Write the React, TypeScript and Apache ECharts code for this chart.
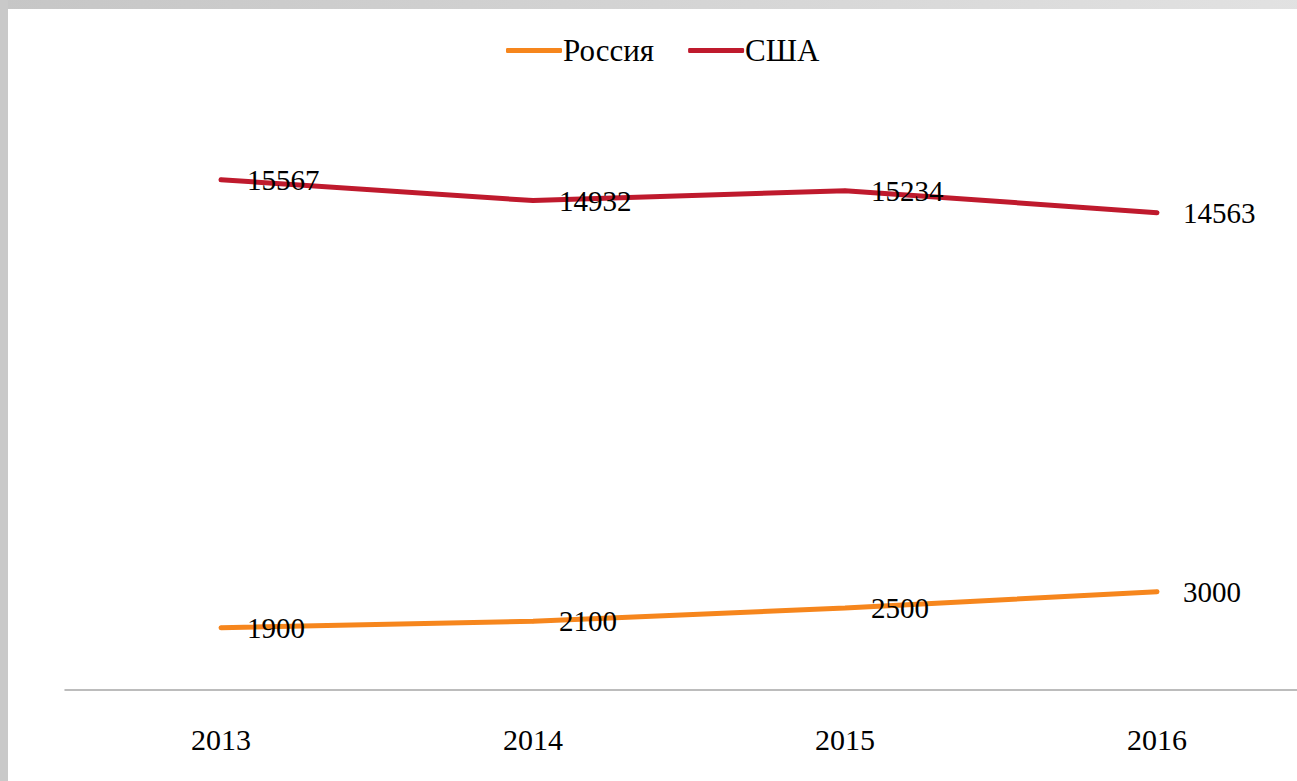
import React, { useEffect, useRef } from "react";
import * as echarts from "echarts";

const years = ["2013", "2014", "2015", "2016"];
const russia = [1900, 2100, 2500, 3000];
const usa = [15567, 14932, 15234, 14563];
const seriesNames = ["Россия", "США"];

const FONT = "'Liberation Serif', 'Times New Roman', serif";

export default function App() {
  const ref = useRef<HTMLDivElement>(null);
  useEffect(() => {
    if (!ref.current) return;
    const chart = echarts.init(ref.current, null, { renderer: "svg" });
    const labelCfg = {
      show: true,
      position: "right",
      distance: 24,
      color: "#000",
      fontFamily: FONT,
      fontSize: 29,
    };
    const mk = (name: string, data: number[], color: string) => ({
      name,
      type: "line",
      data,
      showSymbol: true,
      symbol: "circle",
      symbolSize: 4,
      color,
      itemStyle: { color },
      lineStyle: { width: 5, color, cap: "round" },
      label: labelCfg,
    });
    chart.setOption({
      animation: false,
      backgroundColor: "#fff",
      graphic: [
        {
          type: "rect",
          left: 0,
          top: 0,
          shape: { width: 1313, height: 9 },
          style: {
            fill: new echarts.graphic.LinearGradient(0, 0, 1, 0, [
              { offset: 0, color: "#c6c6c6" },
              { offset: 1, color: "#e2e2e2" },
            ]),
          },
          silent: true,
        },
        {
          type: "rect",
          left: 0,
          top: 0,
          shape: { width: 8, height: 781 },
          style: { fill: "#c9c9c9" },
          silent: true,
        },
      ],
      legend: {
        top: 30,
        left: 501,
        itemWidth: 56,
        itemHeight: 5,
        itemGap: 34,
        icon: "roundRect",
        textStyle: { color: "#000", fontFamily: FONT, fontSize: 31, padding: [0, 0, 0, -4] },
        data: seriesNames,
      },
      grid: { left: 65, right: 0, top: 100, bottom: 91 },
      xAxis: {
        type: "category",
        data: years,
        boundaryGap: true,
        axisLine: { lineStyle: { color: "#a6a6a6", width: 1.5 } },
        axisTick: { show: false },
        axisLabel: { color: "#000", fontFamily: FONT, fontSize: 30, margin: 34 },
      },
      yAxis: {
        type: "value",
        min: 0,
        max: 18000,
        interval: 2000,
        show: false,
        splitLine: { show: false },
      },
      series: [
        mk(seriesNames[0], russia, "#f6861d"),
        mk(seriesNames[1], usa, "#bf1a2d"),
      ],
    });
    return () => chart.dispose();
  }, []);
  return (
    <div style={{ position: "fixed", left: 0, top: 0, width: 1297, height: 781, overflow: "hidden" }}>
      <div ref={ref} style={{ width: 1313, height: 781 }} />
    </div>
  );
}
